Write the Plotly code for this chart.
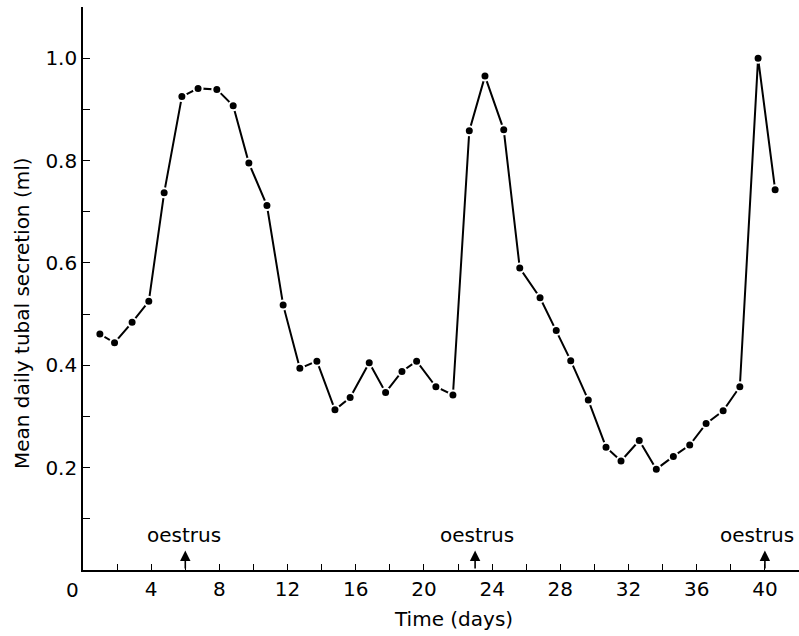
import plotly.graph_objects as go

# Data
days = [0.99, 1.85, 2.88, 3.86, 4.76, 5.80, 6.75, 7.85, 8.81, 9.73, 10.79, 11.74,
        12.72, 13.72, 14.78, 15.67, 16.79, 17.75, 18.71, 19.57, 20.70, 21.70,
        22.66, 23.58, 24.68, 25.62, 26.81, 27.76, 28.61, 29.64, 30.68, 31.56,
        32.63, 33.63, 34.63, 35.59, 36.55, 37.55, 38.53, 39.60, 40.60]
secretion = [0.461, 0.444, 0.484, 0.525, 0.737, 0.925, 0.941, 0.939, 0.907, 0.795, 0.712, 0.518,
             0.394, 0.408, 0.313, 0.337, 0.405, 0.347, 0.388, 0.408, 0.358, 0.342,
             0.858, 0.965, 0.860, 0.590, 0.532, 0.468, 0.409, 0.332, 0.240, 0.213,
             0.253, 0.197, 0.222, 0.244, 0.286, 0.311, 0.358, 1.000, 0.743]

oestrus_days = [6, 23, 40]
oestrus_label_x = [5.95, 23.1, 39.55]
oestrus_label = "oestrus"

x_tick_vals = list(range(0, 43, 2))
x_tick_text = [str(v) if (v % 4 == 0 and v != 0) else "" for v in x_tick_vals]
y_tick_vals = [0.1, 0.2, 0.3, 0.4, 0.5, 0.6, 0.7, 0.8, 0.9, 1.0, 1.1]
y_tick_text = ["", "0.2", "", "0.4", "", "0.6", "", "0.8", "", "1.0", ""]

x_title = "Time (days)"
y_title = "Mean daily tubal secretion (ml)"

FONT = "DejaVu Sans"

fig = go.Figure()
fig.add_trace(go.Scatter(
    x=days, y=secretion, mode="lines+markers",
    line=dict(color="black", width=2),
    marker=dict(color="black", size=9, line=dict(color="white", width=2)),
    showlegend=False, cliponaxis=False,
))

annotations = []
for d, lx in zip(oestrus_days, oestrus_label_x):
    annotations.append(dict(
        x=d, y=0.038, ax=d, ay=0.0, xref="x", yref="y", axref="x", ayref="y",
        text="", showarrow=True, arrowhead=2, arrowsize=1.3, arrowwidth=1.6,
        arrowcolor="black",
    ))
    annotations.append(dict(
        x=lx, y=0.069, xref="x", yref="y", text=oestrus_label, showarrow=False,
        font=dict(family=FONT, size=20, color="black"),
        xanchor="center", yanchor="middle",
    ))

annotations.append(dict(
    x=0, y=0, xref="x", yref="paper", text="0", showarrow=False,
    xshift=-11, yshift=-20, xanchor="center", yanchor="middle",
    font=dict(family=FONT, size=20, color="black"),
))
annotations.append(dict(
    x=21.76, y=0, xref="x", yref="paper", text=x_title, showarrow=False,
    yshift=-48.5, xanchor="center", yanchor="middle",
    font=dict(family=FONT, size=20, color="black"),
))
annotations.append(dict(
    x=0, y=0.502, xref="paper", yref="y", text=y_title, showarrow=False,
    xshift=-61, xanchor="center", yanchor="middle", textangle=-90,
    font=dict(family=FONT, size=20, color="black"),
))

fig.update_layout(
    width=799, height=636,
    margin=dict(l=83, r=0, t=7, b=66),
    plot_bgcolor="white", paper_bgcolor="white",
    font=dict(family=FONT, size=20, color="black"),
    annotations=annotations,
    xaxis=dict(
        range=[0, 42], tickmode="array", tickvals=x_tick_vals, ticktext=x_tick_text,
        ticks="inside", ticklen=6, tickwidth=1.3, tickcolor="black",
        showline=True, linecolor="black", linewidth=1.6,
        showgrid=False, zeroline=False,
        tickfont=dict(family=FONT, size=20, color="black"),
    ),
    yaxis=dict(
        range=[0, 1.1], tickmode="array", tickvals=y_tick_vals, ticktext=y_tick_text,
        ticks="inside", ticklen=7, tickwidth=1.3, tickcolor="black",
        showline=True, linecolor="black", linewidth=1.6,
        showgrid=False, zeroline=False,
        tickfont=dict(family=FONT, size=20, color="black"),
    ),
)

fig.write_html(
    "out.html",
    config={"displayModeBar": False},
    post_script="document.body.style.margin='0';document.body.style.padding='0';",
)
